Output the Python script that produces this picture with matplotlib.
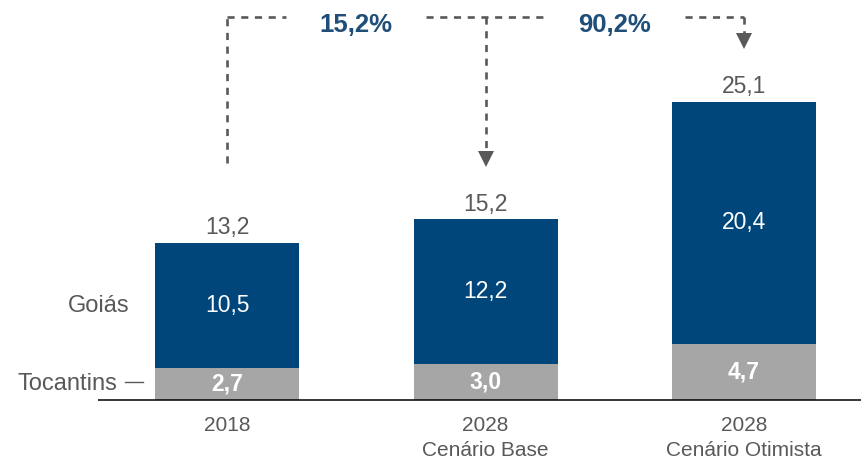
import matplotlib
matplotlib.use("Agg")
import matplotlib.pyplot as plt

plt.rcParams['font.family'] = ['Liberation Sans', 'DejaVu Sans']

categories = ['2018', '2028\nCenário Base', '2028\nCenário Otimista']
tocantins = [2.7, 3.0, 4.7]
goias = [10.5, 12.2, 20.4]
totals = [13.2, 15.2, 25.1]
series_names = ['Tocantins', 'Goiás']

blue = '#00467B'
grey = '#A6A6A6'
text_grey = '#595959'
line_grey = '#595959'
pct_blue = '#1F4E79'


def br(v, nd=1):
    return f'{v:.{nd}f}'.replace('.', ',')


fig = plt.figure(figsize=(8.62, 4.61), dpi=100)
ax = fig.add_axes([0, 0, 1, 1])
ax.set_xlim(-0.878, 2.456)
ax.set_ylim(-5.135, 33.67)
ax.axis('off')

x = list(range(len(categories)))
width = 0.557
ax.bar(x, tocantins, width, color=grey, zorder=2)
ax.bar(x, goias, width, bottom=tocantins, color=blue, zorder=2)

# baseline
ax.plot([-0.499, 2.456], [0, 0], color='black', lw=1.1, zorder=3, solid_capstyle='butt')

for i in x:
    ax.text(i, tocantins[i] / 2, br(tocantins[i]), ha='center', va='center',
            color='white', fontsize=16.5, fontweight='bold', zorder=4)
    ax.text(i, tocantins[i] + goias[i] / 2, br(goias[i]), ha='center', va='center',
            color='white', fontsize=16.5, zorder=4)
    ax.annotate(br(totals[i]), (i, totals[i]), xytext=(0, 11), textcoords='offset points',
                ha='center', va='center', color=text_grey, fontsize=16.5)
    ax.annotate(categories[i], (i, 0), xytext=(0, -11.5), textcoords='offset points',
                ha='center', va='top', color=text_grey, fontsize=15, linespacing=1.4)

# series labels on the left of the first bar
left = -width / 2
ax.annotate(series_names[1], (left, tocantins[0] + goias[0] / 2), xytext=(-18, 0),
            textcoords='offset points', ha='right', va='center', color=text_grey, fontsize=17)
ax.annotate(series_names[0], (left, tocantins[0] / 2), xytext=(-27, 0),
            textcoords='offset points', ha='right', va='center', color=text_grey, fontsize=17)
ax.plot([left - 0.116, left - 0.046], [tocantins[0] / 2 + 0.2] * 2, color=text_grey, lw=1.0)

# growth bracket
top_y = 32.2
dash = dict(color=line_grey, lw=1.9, linestyle=(0, (2.7, 2.5)), zorder=3)
gap = 0.27
ax.plot([0, 0], [totals[1] + 4.75, top_y], **dash)
ax.plot([0, 0.5 - gap], [top_y, top_y], **dash)
ax.plot([0.5 + gap, 1.5 - gap], [top_y, top_y], **dash)
ax.plot([1.5 + gap, 2], [top_y, top_y], **dash)
for i in (1, 2):
    tip = totals[i] + 4.4
    ax.plot([i, i], [top_y, tip + 1.0], **dash)
    ax.plot(i, tip + 0.68, marker='v', markersize=11, color=line_grey,
            markeredgewidth=0, zorder=4)

for k, i in enumerate((1, 2)):
    pct = (totals[i] / totals[0] - 1) * 100
    ax.text(k + 0.5, top_y - 0.6, br(pct) + '%', ha='center', va='center',
            color=pct_blue, fontsize=18.5, fontweight='bold')

fig.savefig('out.png', dpi=100)
